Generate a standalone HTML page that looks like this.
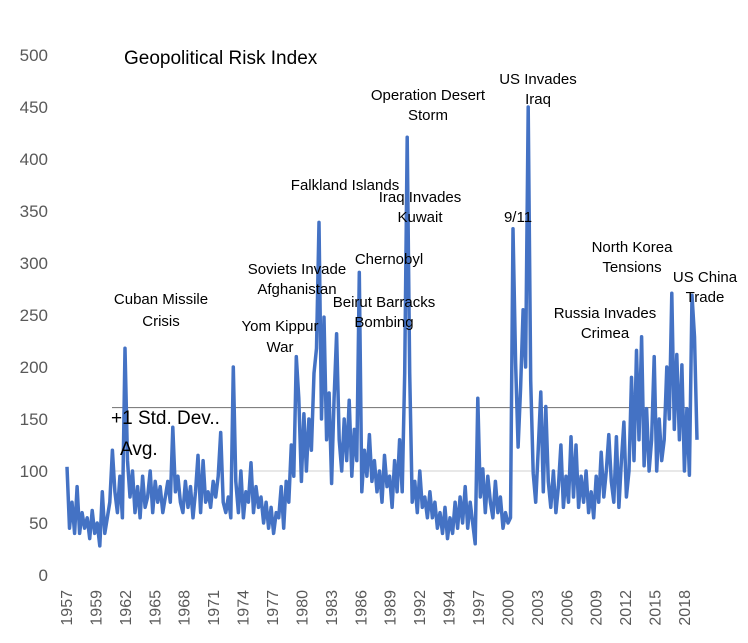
<!DOCTYPE html>
<html><head><meta charset="utf-8"><style>
html,body{margin:0;padding:0;background:#fff;}
svg text{font-family:"Liberation Sans",sans-serif;}
</style></head><body>
<svg id="chart" width="748" height="638" viewBox="0 0 748 638" xmlns="http://www.w3.org/2000/svg">
<rect width="748" height="638" fill="#fff"/>
<g id="yaxis"></g>
<g id="xaxis"></g>
<g id="refs"></g>
<g id="series"></g>
<g id="notes"></g>
<text x="124" y="64" font-size="19" fill="#000">Geopolitical Risk Index</text>
<text x="111" y="424" font-size="19" fill="#000">+1 Std. Dev..</text>
<text x="120" y="455" font-size="19" fill="#000">Avg.</text>
</svg>
<script>
const yTicks = [0,50,100,150,200,250,300,350,400,450,500];
const xTickLabels = ["1957","1959","1962","1965","1968","1971","1974","1977","1980","1983","1986","1989","1992","1994","1997","2000","2003","2006","2009","2012","2015","2018"];
const avgValue = [100];
const stdValue = [161];
// quarterly values from 1957 Q1
const riskValues = [
104,45,70,40, 85,40,60,45, 55,35,62,40, 50,28,80,40, 55,70,120,80,
60,95,55,218, 110,75,100,60, 85,55,95,65, 75,100,60,90, 70,85,60,75,
90,70,142,80, 95,70,60,90, 65,85,55,80, 115,60,110,70, 80,65,90,75,
95,137,70,60, 75,55,200,90, 60,100,55,80, 70,108,60,85, 65,75,50,70,
45,65,40,60, 55,85,45,90, 70,125,95,210, 170,90,155,100, 150,120,194,218,
339,150,248,130, 175,88,170,232, 130,100,150,110, 168,95,140,110, 291,80,120,95,
135,90,110,80, 100,70,115,85, 95,65,110,80, 130,80,194,421, 194,70,90,60,
100,65,75,55, 80,55,70,45, 60,40,65,35, 55,40,70,45, 75,50,85,45,
70,50,30,170, 75,102,60,95, 70,55,90,60, 75,45,60,50, 55,333,204,123,
180,255,200,450, 187,98,70,120, 176,80,162,90, 65,100,60,85, 125,65,95,70,
133,75,125,65, 95,70,100,60, 80,55,95,70, 118,75,100,135, 90,70,133,65,
110,147,75,100, 190,110,216,130, 229,105,160,100, 130,210,100,150, 110,130,200,150,
271,140,212,130, 202,100,160,96, 269,229,130
];
const NS="http://www.w3.org/2000/svg";
const Y0=575, PXU=1.04, X0=67, QSTEP=2.52, LSTEP=29.43;
function yS(v){return Y0 - v*PXU;}
function xQ(i){return X0 + i*QSTEP;}
function mk(tag,attrs,parent){const e=document.createElementNS(NS,tag);for(const k in attrs)e.setAttribute(k,attrs[k]);parent.appendChild(e);return e;}
const ya=document.getElementById('yaxis');
yTicks.forEach(v=>{
  const t=mk('text',{x:48,y:yS(v)+6,'text-anchor':'end','font-size':17,fill:'#595959'},ya);
  
  
  t.textContent=v;
});
const xa=document.getElementById('xaxis');
xTickLabels.forEach((l,k)=>{
  const x=X0+k*LSTEP+5;
  const t=mk('text',{x:x,y:590,'text-anchor':'end','font-size':16,fill:'#595959',transform:`rotate(-90 ${x} 590)`},xa);
  
  
  t.textContent=l;
});
const rf=document.getElementById('refs');
const al=mk('line',{x1:112,x2:688,y1:yS(avgValue[0]),y2:yS(avgValue[0]),stroke:'#d0d0d0','stroke-width':1},rf);


const sl=mk('line',{x1:112,x2:688,y1:yS(stdValue[0]),y2:yS(stdValue[0]),stroke:'#808080','stroke-width':1.2},rf);


const pts=riskValues.map((v,i)=>xQ(i).toFixed(1)+','+yS(v).toFixed(1)).join(' ');
const pl=mk('polyline',{points:pts,fill:'none',stroke:'#4472c4','stroke-width':3.5,'stroke-linejoin':'round'},document.getElementById('series'));


const notes=[
 ["Cuban Missile",161,304],["Crisis",161,326],
 ["Yom Kippur",280,331],["War",280,352],
 ["Soviets Invade",297,274],["Afghanistan",297,294],
 ["Falkland Islands",345,190],
 ["Iraq Invades",420,202],["Kuwait",420,222],
 ["Chernobyl",389,264],
 ["Beirut Barracks",384,307],["Bombing",384,327],
 ["Operation Desert",428,100],["Storm",428,120],
 ["US Invades",538,84],["Iraq",538,104],
 ["9/11",518,222],
 ["North Korea",632,252],["Tensions",632,272],
 ["Russia Invades",605,318],["Crimea",605,338],
 ["US China",705,282],["Trade",705,302]
];
const ng=document.getElementById('notes');
notes.forEach(n=>{
  const t=mk('text',{x:n[1],y:n[2],'text-anchor':'middle','font-size':15,fill:'#000'},ng);
  
  
  t.textContent=n[0];
});
</script>
</body></html>
